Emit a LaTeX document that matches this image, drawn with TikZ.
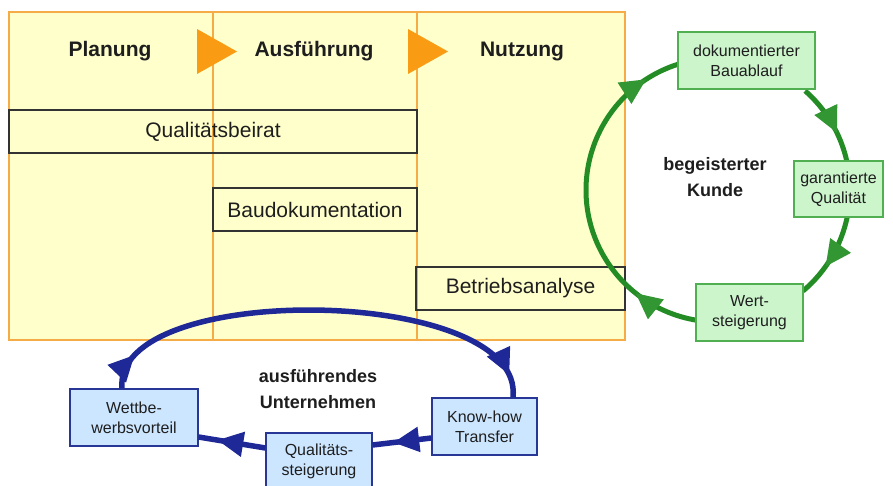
\documentclass[tikz,border=0pt]{standalone}
\usepackage{fontspec}
\setmainfont{Liberation Sans}
\usetikzlibrary{arrows.meta,decorations.markings}
\definecolor{yel}{RGB}{255,255,204}
\definecolor{orangeB}{RGB}{246,172,70}
\definecolor{orangeT}{RGB}{250,155,20}
\definecolor{gline}{RGB}{36,140,36}
\definecolor{gtipc}{RGB}{50,150,50}
\definecolor{gfill}{RGB}{204,245,204}
\definecolor{gborder}{RGB}{80,175,80}
\definecolor{bline}{RGB}{30,40,150}
\definecolor{bfill}{RGB}{204,230,255}
\definecolor{bborder}{RGB}{40,55,150}
\definecolor{txt}{RGB}{30,30,30}
\begin{document}
\begin{tikzpicture}[x=1pt,y=-1pt,
  phase/.style={font=\fontsize{21}{25}\selectfont\bfseries, text=txt, inner sep=0pt},
  bar/.style={draw=black!80, line width=1.5pt, font=\fontsize{21}{25}\selectfont, text=txt, inner sep=0pt},
  gbox/.style={draw=gborder, line width=1.2pt, fill=gfill, font=\fontsize{16}{20}\selectfont, align=center, text=txt, inner sep=0pt},
  bbox/.style={draw=bborder, line width=1.2pt, fill=bfill, font=\fontsize{16}{20}\selectfont, align=center, text=txt, inner sep=0pt},
  ctext/.style={font=\fontsize{18}{26}\selectfont\bfseries, align=center, text=txt, inner sep=0pt},
  garc/.style={draw=gline, line width=5pt},
  barc/.style={draw=bline, line width=5.5pt},
  gtip/.style={postaction={decorate, decoration={markings, mark=at position #1 with {\arrow[gtipc]{Triangle[length=26pt,width=24pt]}}}}},
  btip/.style={postaction={decorate, decoration={markings, mark=at position #1 with {\arrow[bline]{Triangle[length=26pt,width=24pt]}}}}},
]
\useasboundingbox (0,0) rectangle (893,486);
\fill[white] (0,0) rectangle (893,486);

% phase table
\draw[orangeB, line width=1.5pt, fill=yel] (9,12) rectangle (625,340);
\draw[orangeB, line width=1.5pt] (213,12) -- (213,340);
\draw[orangeB, line width=1.5pt] (417,12) -- (417,340);
\fill[orangeT] (197,29) -- (237,51.5) -- (197,74) -- cycle;
\fill[orangeT] (408,29) -- (448,51.5) -- (408,74) -- cycle;
\node[phase, anchor=base] (plan) at (110,57) {Planung};
\node[phase, anchor=base] (ausf) at (314,57) {Ausführung};
\node[phase, anchor=base] (nutz) at (522,57) {Nutzung};
\node[bar, minimum width=408pt, minimum height=43pt] (qb) at (213,131.5) {Qualitätsbeirat};
\node[bar, minimum width=204pt, minimum height=43pt] (bd) at (315,209.5) {Baudokumentation};
\node[bar, minimum width=209pt, minimum height=43pt] (ba) at (520.5,288.5) {Betriebsanalyse};

% green cycle
\coordinate (gc) at (718,190);
\coordinate (gA) at ([shift={(260.4:132pt)}]gc);
\coordinate (gB) at ([shift={(48.7:132pt)}]gc);
\coordinate (gC) at ([shift={(-12:132pt)}]gc);
\draw[garc, gtip=0.19, gtip=0.9] (gA) arc[start angle=260.4, end angle=107.6, radius=132pt];
\draw[garc, gtip=0.64] (gB) arc[start angle=48.7, end angle=12.6, radius=132pt];
\draw[garc, gtip=0.62] (gC) arc[start angle=-12, end angle=-49.9, radius=132pt];
\node[gbox, minimum width=137pt, minimum height=57pt] (dok) at (746.5,60.5) {dokumentierter\\Bauablauf};
\node[gbox, minimum width=89pt, minimum height=56pt] (gar) at (838.5,189) {garantierte\\Qualität};
\node[gbox, minimum width=107pt, minimum height=57pt] (wert) at (749.5,312.5) {Wert-\\steigerung};
\node[ctext] (kunde) at (715,177) {begeisterter\\Kunde};

% blue cycle
\node[bbox, minimum width=128pt, minimum height=57pt] (wett) at (134,417.5) {Wettbe-\\werbsvorteil};
\node[bbox, minimum width=106pt, minimum height=57pt] (qual) at (319,461.5) {Qualitäts-\\steigerung};
\node[bbox, minimum width=105pt, minimum height=57pt] (know) at (484.5,426.5) {Know-how\\Transfer};
\draw[barc, btip=0.08, btip=0.95] ([xshift=-12pt]wett.north) .. controls (112,280) and (525,285) .. ([xshift=28.5pt]know.north);
\draw[barc, btip=0.65] ([yshift=-11.5pt]know.west) -- ([yshift=16.5pt]qual.east);
\draw[barc, btip=0.72] ([yshift=13.5pt]qual.west) -- ([yshift=-19.5pt]wett.east);
\node[ctext] (unt) at (318,389) {ausführendes\\Unternehmen};
\end{tikzpicture}
\end{document}
